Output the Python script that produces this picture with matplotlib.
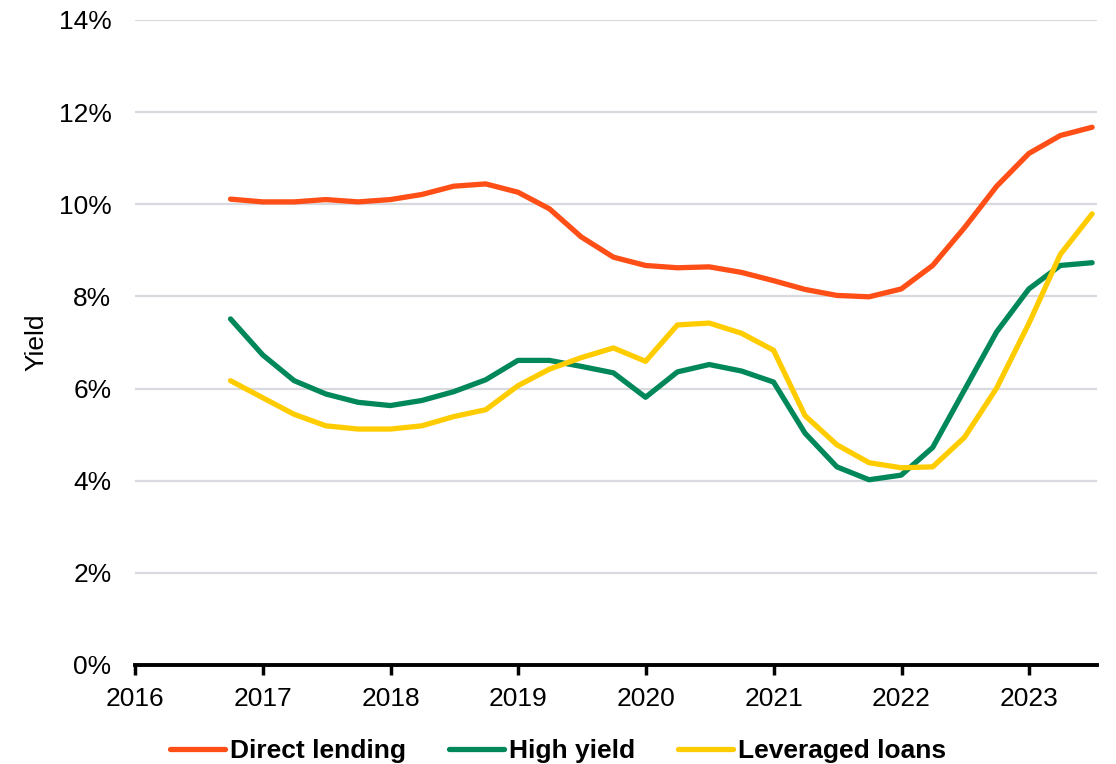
import numpy as np
import pandas as pd
import matplotlib
matplotlib.use('Agg')
import matplotlib.pyplot as plt
import matplotlib.dates as mdates
from matplotlib.ticker import FuncFormatter

plt.rcParams['font.family'] = ['Liberation Sans', 'DejaVu Sans']

# Quarter-end dates, Sep 2016 - Jun 2023
dates = pd.date_range('2016-09-30', periods=28, freq='QE')

# Yields in percent
direct_lending = [10.11, 10.05, 10.05, 10.10, 10.05, 10.10, 10.21, 10.39, 10.44, 10.26,
                  9.90, 9.29, 8.85, 8.67, 8.62, 8.64, 8.52, 8.34, 8.15, 8.02,
                  7.99, 8.16, 8.67, 9.49, 10.39, 11.10, 11.49, 11.67]
high_yield = [7.51, 6.73, 6.17, 5.88, 5.70, 5.63, 5.74, 5.93, 6.19, 6.61,
              6.61, 6.48, 6.34, 5.81, 6.36, 6.52, 6.38, 6.14, 5.03, 4.30,
              4.02, 4.12, 4.72, 5.97, 7.23, 8.16, 8.67, 8.73]
leveraged_loans = [6.17, 5.80, 5.44, 5.19, 5.12, 5.12, 5.19, 5.39, 5.54, 6.06,
                   6.42, 6.67, 6.88, 6.59, 7.38, 7.42, 7.20, 6.83, 5.41, 4.78,
                   4.39, 4.28, 4.30, 4.94, 6.01, 7.41, 8.91, 9.79]

fig = plt.figure(figsize=(11.16, 7.64), dpi=100)
ax = fig.add_axes([0.121, 0.1296, 0.862, 0.8444])

ax.plot(dates, direct_lending, color='#FF4F17', lw=3.8, label='Direct lending', solid_capstyle='round')
ax.plot(dates, high_yield, color='#00875A', lw=3.8, label='High yield', solid_capstyle='round')
ax.plot(dates, leveraged_loans, color='#FFCC00', lw=3.8, label='Leveraged loans', solid_capstyle='round')

ax.set_ylim(0, 14)
ax.set_yticks(np.arange(0, 15, 2))
ax.yaxis.set_major_formatter(FuncFormatter(lambda v, p: '%d%%' % v))
ax.set_xlim(pd.Timestamp('2016-01-01'), pd.Timestamp('2023-07-14'))
ax.xaxis.set_major_locator(mdates.YearLocator())
ax.xaxis.set_major_formatter(mdates.DateFormatter('%Y'))

ax.grid(axis='y', color='#d9d9e0', lw=1.6)
ax.set_axisbelow(True)
for s in ['top', 'right', 'left']:
    ax.spines[s].set_visible(False)
ax.spines['bottom'].set_linewidth(2.8)
ax.spines['bottom'].set_zorder(5)
ax.tick_params(axis='x', direction='out', length=7, width=2.5, labelsize=19, pad=9)
ax.tick_params(axis='y', length=0, labelsize=19, pad=17)
ax.set_ylabel('Yield', fontsize=19, labelpad=7)

fig.legend(loc='lower center', bbox_to_anchor=(0.5, -0.03), ncol=3, frameon=False,
           prop={'weight': 'bold', 'size': 19}, handlelength=2.1, handletextpad=0.2,
           columnspacing=1.6)

fig.savefig('out.png', dpi=100)
